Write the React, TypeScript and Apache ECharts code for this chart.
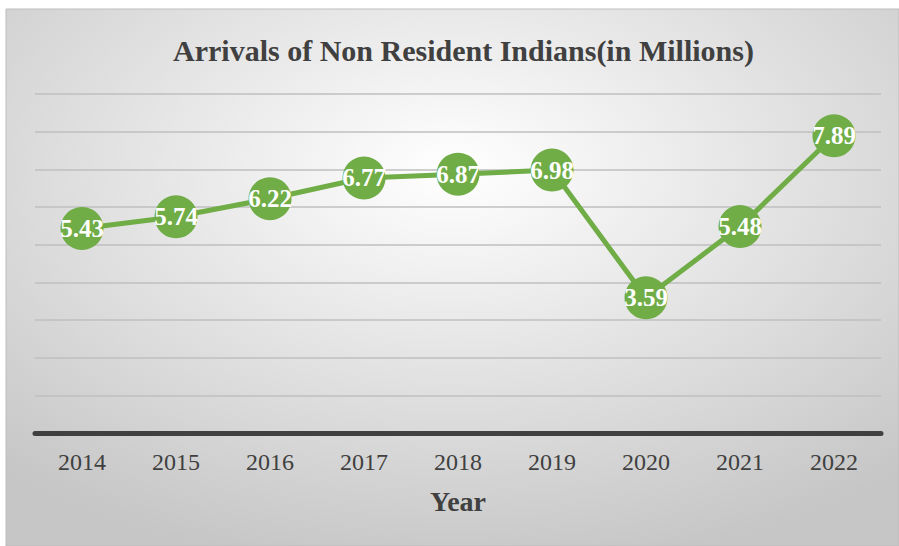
import React, { useEffect, useRef } from "react";
import * as echarts from "echarts";

const years = ["2014", "2015", "2016", "2017", "2018", "2019", "2020", "2021", "2022"];
const arrivals = [5.43, 5.74, 6.22, 6.77, 6.87, 6.98, 3.59, 5.48, 7.89];
const titleText = "Arrivals of Non Resident Indians(in Millions)";
const xAxisName = "Year";

export default function App() {
  const ref = useRef<HTMLDivElement>(null);
  useEffect(() => {
    if (!ref.current) return;
    const chart = echarts.init(ref.current, undefined, { renderer: "svg" });
    const serif = "'Liberation Serif', 'Times New Roman', serif";
    chart.setOption({
      animation: false,
      graphic: [
        {
          type: "rect",
          z: -10,
          silent: true,
          shape: { x: 6, y: 9, width: 893, height: 537 },
          style: {
            fill: {
              type: "radial",
              x: 0.5,
              y: 0.3,
              r: 0.75,
              colorStops: [
                { offset: 0, color: "#ffffff" },
                { offset: 1, color: "#c6c6c6" },
              ],
            },
            stroke: "#bdbdbd",
            lineWidth: 1,
          },
        },
      ],
      title: {
        text: titleText,
        left: 168,
        top: 30,
        textStyle: { fontFamily: serif, fontSize: 30, fontWeight: "bold", color: "#404040" },
      },
      grid: { left: 35, right: 18, top: 94, bottom: 113, containLabel: false },
      xAxis: {
        type: "category",
        data: years,
        boundaryGap: true,
        name: xAxisName,
        nameLocation: "middle",
        nameGap: 54,
        nameTextStyle: { fontFamily: serif, fontSize: 28, fontWeight: "bold", color: "#404040" },
        axisLine: { lineStyle: { color: "#404040", width: 5 } },
        axisTick: { show: false },
        axisLabel: { fontFamily: serif, fontSize: 24, color: "#404040", margin: 17 },
      },
      yAxis: {
        type: "value",
        min: 0,
        max: 9,
        interval: 1,
        axisLine: { show: false },
        axisTick: { show: false },
        axisLabel: { show: false },
        splitLine: { lineStyle: { color: "#bfbfbf", width: 1.5 } },
      },
      series: [
        {
          type: "line",
          data: arrivals,
          symbol: "circle",
          symbolSize: 43,
          lineStyle: { color: "#70AD47", width: 5 },
          itemStyle: { color: "#70AD47" },
          label: {
            show: true,
            position: "inside",
            formatter: (p: any) => p.value.toFixed(2),
            fontFamily: serif,
            fontSize: 25,
            fontWeight: "bold",
            color: "#ffffff",
          },
        },
      ],
    });
    return () => chart.dispose();
  }, []);
  return (
    <div
      ref={ref}
      style={{ position: "absolute", left: 0, top: 0, width: 899, height: 546 }}
    />
  );
}
